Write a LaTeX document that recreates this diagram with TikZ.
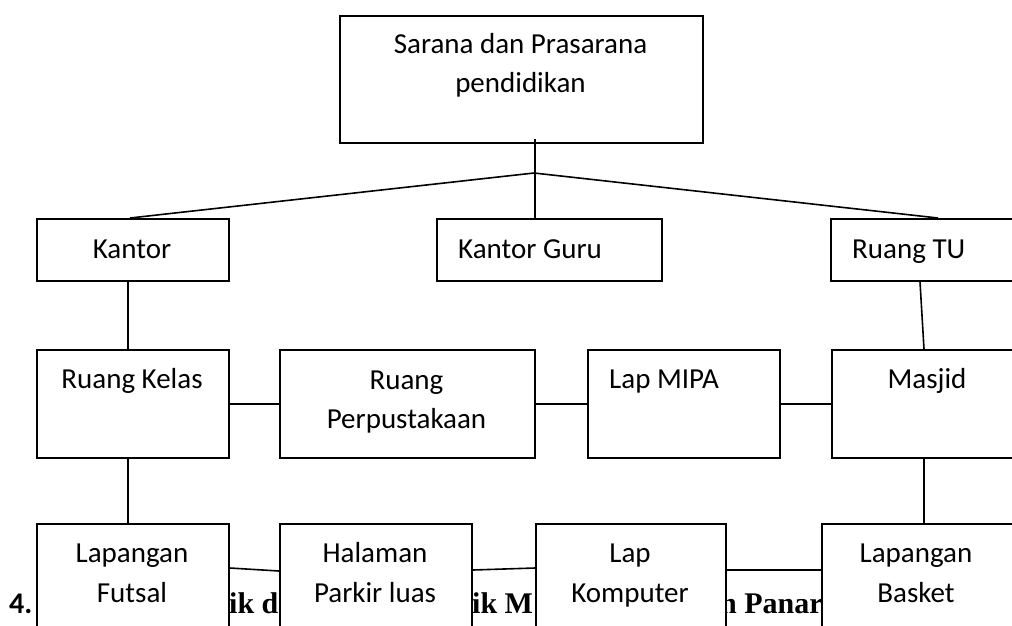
\documentclass[tikz,border=0pt]{standalone}
\usepackage{fontspec}
\setmainfont{Carlito}
\newfontfamily\tnr{Liberation Serif}
\usetikzlibrary{calc}
\begin{document}
\begin{tikzpicture}[x=1pt,y=-1pt,
  box/.style={draw, line width=1.8pt, fill=white, rectangle, inner sep=0pt, anchor=north west},
  lab/.style={anchor=base, inner sep=0pt, font=\fontsize{29}{34}\selectfont},
  labl/.style={anchor=base west, inner sep=0pt, font=\fontsize{29}{34}\selectfont},
  bold/.style={anchor=base west, inner sep=0pt, font=\tnr\bfseries\fontsize{30}{36}\selectfont},
  link/.style={line width=1.6pt}]
\useasboundingbox (0,0) rectangle (1012,625);
\clip (0,0) rectangle (1012,625);
% bold text line partly hidden behind the bottom boxes
\node[anchor=base west, inner sep=0pt, font=\bfseries\fontsize{30}{36}\selectfont] (n4) at (9,613) {4.};
\node[bold] (f1) at (229,613) {ik d};
\node[bold] (f2) at (472,613) {ik M};
\node[bold] (f3) at (720,613) {n Panar};
% boxes
\node[box, minimum width=363pt, minimum height=127pt] (top) at (339,15) {};
\node[box, minimum width=192pt, minimum height=62pt] (kantor) at (36,218) {};
\node[box, minimum width=225pt, minimum height=62pt] (guru) at (436,218) {};
\node[box, minimum width=192pt, minimum height=62pt] (rtu) at (830,218) {};
\node[box, minimum width=192pt, minimum height=108pt] (kelas) at (36,349) {};
\node[box, minimum width=255pt, minimum height=108pt] (perpus) at (279,349) {};
\node[box, minimum width=192pt, minimum height=108pt] (mipa) at (587,349) {};
\node[box, minimum width=192pt, minimum height=108pt] (masjid) at (831,349) {};
\node[box, minimum width=192pt, minimum height=120pt] (futsal) at (36,523) {};
\node[box, minimum width=192pt, minimum height=120pt] (halaman) at (279,523) {};
\node[box, minimum width=190pt, minimum height=120pt] (komp) at (535,523) {};
\node[box, minimum width=192pt, minimum height=120pt] (basket) at (821,523) {};
% connectors
\coordinate (apex) at (534,173);
\draw[link] ($(top.south)+(13.5,-5)$) -- ($(guru.north)+(-14.5,0)$);
\draw[link] ($(kantor.north west)+(94,0)$) -- (apex) -- ($(rtu.north west)+(108,0)$);
\draw[link] ($(kantor.south west)+(92,0)$) -- ($(kelas.north west)+(92,0)$);
\draw[link] ($(rtu.south west)+(90,0)$) -- ($(masjid.north west)+(93,0)$);
\draw[link] (kelas.east) -- (perpus.west);
\draw[link] (perpus.east) -- (mipa.west);
\draw[link] (mipa.east) -- (masjid.west);
\draw[link] ($(kelas.south west)+(92,0)$) -- ($(futsal.north west)+(92,0)$);
\draw[link] ($(masjid.south west)+(93,0)$) -- ($(basket.north west)+(103,0)$);
\draw[link] ($(futsal.north east)+(0,45)$) -- ($(halaman.north west)+(0,48)$);
\draw[link] ($(halaman.north east)+(0,47)$) -- ($(komp.north west)+(0,45)$);
\draw[link] ($(komp.north east)+(0,47)$) -- ($(basket.north west)+(0,47)$);
% texts
\node[lab] (t0a) at (520.5,53) {Sarana dan Prasarana};
\node[lab] (t0b) at (520.5,92) {pendidikan};
\node[lab] (t1) at (132,258) {Kantor};
\node[labl] (t2) at (458,258) {Kantor Guru};
\node[labl] (t3) at (852,258) {Ruang TU};
\node[lab] (t4) at (132,388) {Ruang Kelas};
\node[lab] (t5a) at (406.5,389) {Ruang};
\node[lab] (t5b) at (406.5,428) {Perpustakaan};
\node[labl] (t6) at (609,388) {Lap MIPA};
\node[lab] (t7) at (927,388) {Masjid};
\node[lab] (t8a) at (132,562) {Lapangan};
\node[lab] (t8b) at (132,602) {Futsal};
\node[lab] (t9a) at (375,562) {Halaman};
\node[lab] (t9b) at (375,602) {Parkir luas};
\node[lab] (t10a) at (630,562) {Lap};
\node[lab] (t10b) at (630,602) {Komputer};
\node[lab] (t11a) at (916,562) {Lapangan};
\node[lab] (t11b) at (916,602) {Basket};
\end{tikzpicture}
\end{document}
